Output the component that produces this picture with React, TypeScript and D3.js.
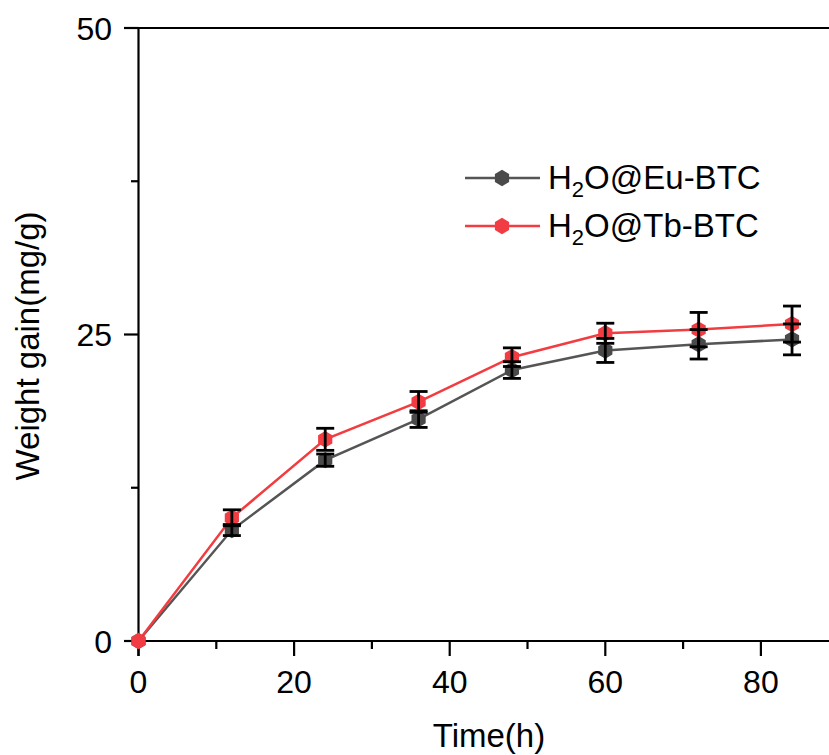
import React from "react";
import * as d3 from "d3";

const times = [0, 12, 24, 36, 48, 60, 72, 84];
const euValues = [0, 9.05, 14.75, 18.1, 22.1, 23.7, 24.2, 24.6];
const euErrors = [0, 0.45, 0.5, 0.68, 0.68, 0.98, 1.2, 1.26];
const tbValues = [0, 10.05, 16.45, 19.5, 23.15, 25.1, 25.4, 25.85];
const tbErrors = [0, 0.65, 0.9, 0.85, 0.76, 0.82, 1.4, 1.47];
const xTicks = [0, 20, 40, 60, 80];
const xMinor = [10, 30, 50, 70];
const yTicks = [0, 25, 50];
const yMinor = [12.5, 37.5];

const W = 829;
const H = 755;
const left = 138.5;
const top = 28;
const bottom = 641;

const x = d3.scaleLinear().domain([0, 90]).range([left, left + 90 * 7.78]);
const y = d3.scaleLinear().domain([0, 50]).range([bottom, top]);

const hexPath = (r: number) => {
  const pts: [number, number][] = [];
  for (let i = 0; i < 6; i++) {
    const a = (Math.PI / 3) * i - Math.PI / 2;
    pts.push([r * Math.cos(a), r * Math.sin(a)]);
  }
  return "M" + pts.map((p) => p.join(",")).join("L") + "Z";
};

const series = [
  { name: "Eu", values: euValues, errors: euErrors, line: "#555555", fill: "#4a4a4a" },
  { name: "Tb", values: tbValues, errors: tbErrors, line: "#f23c40", fill: "#f03c42" },
];

const font = "'Liberation Sans', Arial, sans-serif";

export default function App() {
  const lineGen = d3
    .line<number>()
    .x((_, i) => x(times[i]))
    .y((v) => y(v));
  const hex = hexPath(8.2);
  return (
    <svg width={W} height={H} style={{ position: "absolute", left: 0, top: 0 }} fontFamily={font}>
      <rect width={W} height={H} fill="#fff" />
      {/* axes */}
      <line x1={124} x2={W} y1={y(50)} y2={y(50)} stroke="#000" strokeWidth={2.2} />
      <line x1={124} x2={W} y1={y(0)} y2={y(0)} stroke="#000" strokeWidth={2.2} />
      <line x1={left} x2={left} y1={top} y2={bottom + 15} stroke="#000" strokeWidth={2.2} />
      {yTicks.map((t) => (
        <g key={"yt" + t}>
          <line x1={124} x2={left} y1={y(t)} y2={y(t)} stroke="#000" strokeWidth={2.2} />
          <text x={112} y={y(t)} dy="0.36em" textAnchor="end" fontSize={32}>
            {t}
          </text>
        </g>
      ))}
      {yMinor.map((t) => (
        <line key={"ym" + t} x1={131} x2={left} y1={y(t)} y2={y(t)} stroke="#000" strokeWidth={2.2} />
      ))}
      {xTicks.map((t) => (
        <g key={"xt" + t}>
          <line x1={x(t)} x2={x(t)} y1={bottom} y2={bottom + 15} stroke="#000" strokeWidth={2.2} />
          <text x={x(t)} y={693} textAnchor="middle" fontSize={32}>
            {t}
          </text>
        </g>
      ))}
      {xMinor.map((t) => (
        <line key={"xm" + t} x1={x(t)} x2={x(t)} y1={bottom} y2={bottom + 8} stroke="#000" strokeWidth={2.2} />
      ))}
      <text x={489} y={747} textAnchor="middle" fontSize={33}>
        Time(h)
      </text>
      <text transform={`translate(39,346) rotate(-90)`} textAnchor="middle" fontSize={33}>
        Weight gain(mg/g)
      </text>
      {/* lines */}
      {series.map((s) => (
        <path key={"l" + s.name} d={lineGen(s.values) || ""} fill="none" stroke={s.line} strokeWidth={2.5} />
      ))}
      {/* markers */}
      {series.map((s) =>
        s.values.map((v, i) => (
          <path key={"m" + s.name + i} d={hex} transform={`translate(${x(times[i])},${y(v)})`} fill={s.fill} />
        ))
      )}
      {/* error bars */}
      {series.map((s) =>
        s.values.map((v, i) =>
          s.errors[i] > 0 ? (
            <g key={"e" + s.name + i} stroke="#000" strokeWidth={2.8}>
              <line x1={x(times[i])} x2={x(times[i])} y1={y(v - s.errors[i])} y2={y(v + s.errors[i])} />
              <line x1={x(times[i]) - 9} x2={x(times[i]) + 9} y1={y(v - s.errors[i])} y2={y(v - s.errors[i])} />
              <line x1={x(times[i]) - 9} x2={x(times[i]) + 9} y1={y(v + s.errors[i])} y2={y(v + s.errors[i])} />
            </g>
          ) : null
        )
      )}
      {/* legend */}
      {series.map((s, i) => {
        const ly = 178 + i * 48;
        return (
          <g key={"lg" + s.name}>
            <line x1={465} x2={540} y1={ly} y2={ly} stroke={s.line} strokeWidth={2.5} />
            <path d={hex} transform={`translate(502,${ly})`} fill={s.fill} />
            <text x={548} y={ly + 11} fontSize={33}>
              H<tspan fontSize={22} dy={8}>2</tspan>
              <tspan dy={-8}>{s.name === "Eu" ? "O@Eu-BTC" : "O@Tb-BTC"}</tspan>
            </text>
          </g>
        );
      })}
    </svg>
  );
}
